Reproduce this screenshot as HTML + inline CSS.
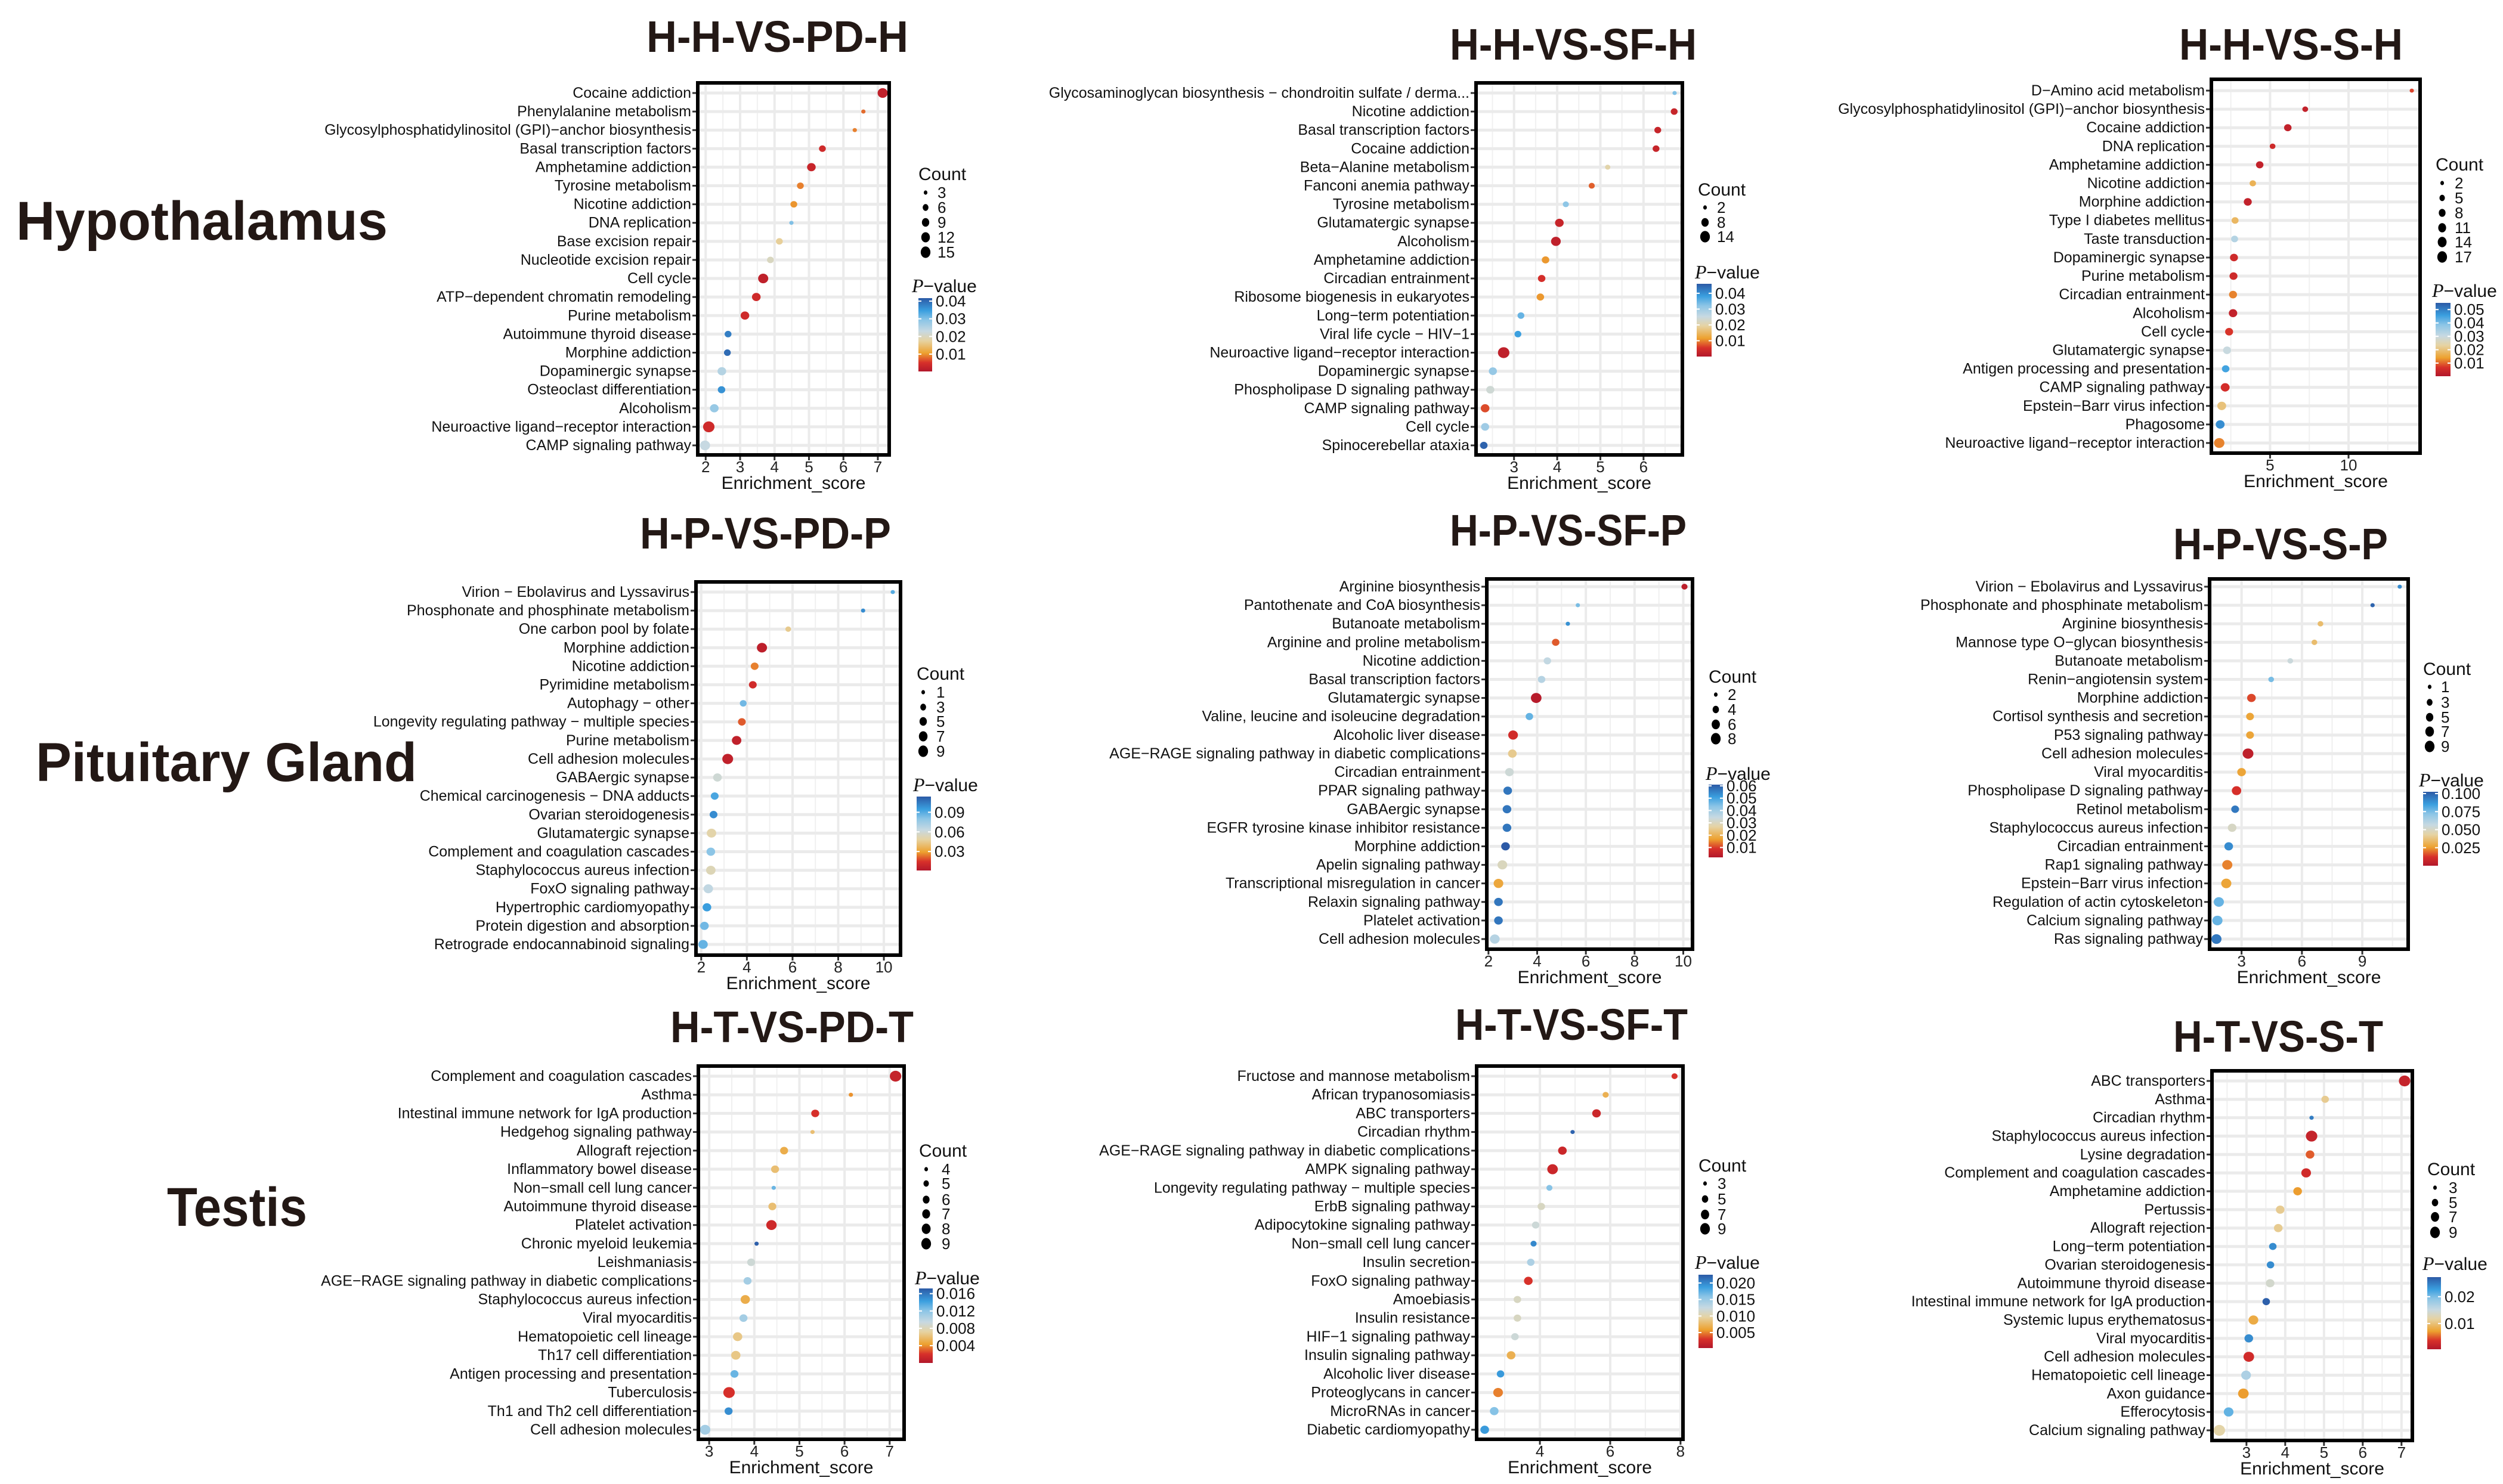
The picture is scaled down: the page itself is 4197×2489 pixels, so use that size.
<!DOCTYPE html>
<html><head><meta charset="utf-8">
<style>
html,body{margin:0;padding:0;background:#fff;}
svg{display:block;}
.lab{font-family:"Liberation Sans Narrow","Liberation Sans",sans-serif;font-size:25px;fill:#111;}
.tick{font-family:"Liberation Sans Narrow","Liberation Sans",sans-serif;font-size:26px;fill:#222;}
.axt{font-family:"Liberation Sans Narrow","Liberation Sans",sans-serif;font-size:30px;fill:#111;}
.leg{font-family:"Liberation Sans Narrow","Liberation Sans",sans-serif;font-size:26px;fill:#111;}
.legt{font-family:"Liberation Sans Narrow","Liberation Sans",sans-serif;font-size:30px;fill:#111;}
.ttl{font-family:"Liberation Sans","DejaVu Sans",sans-serif;font-weight:bold;font-size:74px;fill:#231815;}
.row{font-family:"Liberation Sans","DejaVu Sans",sans-serif;font-weight:bold;font-size:92px;fill:#231815;}
</style></head>
<body>
<svg id="fig" xmlns="http://www.w3.org/2000/svg" width="4197" height="2489" viewBox="0 0 4197 2489">
<defs>
<linearGradient id="pgrad" x1="0" y1="1" x2="0" y2="0">
<stop offset="0" stop-color="#b2182b"/>
<stop offset="0.12" stop-color="#d7302a"/>
<stop offset="0.25" stop-color="#eda12f"/>
<stop offset="0.42" stop-color="#e6d3a3"/>
<stop offset="0.55" stop-color="#c7d9e2"/>
<stop offset="0.7" stop-color="#8cc5e6"/>
<stop offset="0.83" stop-color="#3a9fdf"/>
<stop offset="1" stop-color="#2c5aa6"/>
</linearGradient>
</defs>
<rect x="0" y="0" width="4197" height="2489" fill="#fff"/>
<text class="row" x="27" y="402" textLength="623" lengthAdjust="spacingAndGlyphs">Hypothalamus</text>
<text class="row" x="60" y="1310" textLength="639" lengthAdjust="spacingAndGlyphs">Pituitary Gland</text>
<text class="row" x="280" y="2056" textLength="235" lengthAdjust="spacingAndGlyphs">Testis</text>
</svg>
<script>
// ---------- DATA ----------
const cats11=["Cocaine addiction","Phenylalanine metabolism","Glycosylphosphatidylinositol (GPI)\u2212anchor biosynthesis","Basal transcription factors","Amphetamine addiction","Tyrosine metabolism","Nicotine addiction","DNA replication","Base excision repair","Nucleotide excision repair","Cell cycle","ATP\u2212dependent chromatin remodeling","Purine metabolism","Autoimmune thyroid disease","Morphine addiction","Dopaminergic synapse","Osteoclast differentiation","Alcoholism","Neuroactive ligand\u2212receptor interaction","CAMP signaling pathway"];
const es11=[7.14,6.58,6.33,5.39,5.07,4.75,4.56,4.49,4.14,3.88,3.67,3.47,3.14,2.65,2.63,2.47,2.46,2.25,2.09,1.98];
const cnt11=[12,3,3,6,9,6,6,3,6,6,12,9,9,6,6,9,7,9,15,12];
const pv11=[0.002,0.008,0.009,0.004,0.003,0.009,0.010,0.030,0.017,0.020,0.002,0.004,0.004,0.038,0.040,0.025,0.036,0.028,0.004,0.023];

const cats12=["Glycosaminoglycan biosynthesis \u2212 chondroitin sulfate / derma...","Nicotine addiction","Basal transcription factors","Cocaine addiction","Beta\u2212Alanine metabolism","Fanconi anemia pathway","Tyrosine metabolism","Glutamatergic synapse","Alcoholism","Amphetamine addiction","Circadian entrainment","Ribosome biogenesis in eukaryotes","Long\u2212term potentiation","Viral life cycle \u2212 HIV\u22121","Neuroactive ligand\u2212receptor interaction","Dopaminergic synapse","Phospholipase D signaling pathway","CAMP signaling pathway","Cell cycle","Spinocerebellar ataxia"];
const es12=[6.72,6.71,6.33,6.29,5.17,4.80,4.20,4.05,3.97,3.73,3.64,3.61,3.16,3.09,2.76,2.51,2.45,2.33,2.33,2.30];
const cnt12=[2,5,5,5,3,4,4,8,10,6,6,6,5,5,14,7,7,8,7,6];
const pv12=[0.033,0.003,0.003,0.003,0.020,0.008,0.032,0.003,0.002,0.011,0.005,0.011,0.035,0.038,0.002,0.031,0.024,0.007,0.030,0.045];

const cats13=["D\u2212Amino acid metabolism","Glycosylphosphatidylinositol (GPI)\u2212anchor biosynthesis","Cocaine addiction","DNA replication","Amphetamine addiction","Nicotine addiction","Morphine addiction","Type I diabetes mellitus","Taste transduction","Dopaminergic synapse","Purine metabolism","Circadian entrainment","Alcoholism","Cell cycle","Glutamatergic synapse","Antigen processing and presentation","CAMP signaling pathway","Epstein\u2212Barr virus infection","Phagosome","Neuroactive ligand\u2212receptor interaction"];
const es13=[14.03,7.24,6.13,5.16,4.34,3.90,3.58,2.77,2.74,2.70,2.67,2.64,2.64,2.39,2.26,2.17,2.14,1.92,1.82,1.76];
const cnt13=[2,4,7,4,7,5,8,6,6,8,8,8,9,8,8,7,10,10,10,14];
const pv13=[0.008,0.003,0.003,0.005,0.003,0.017,0.003,0.018,0.033,0.005,0.005,0.012,0.003,0.007,0.030,0.045,0.006,0.020,0.048,0.012];

const cats21=["Virion \u2212 Ebolavirus and Lyssavirus","Phosphonate and phosphinate metabolism","One carbon pool by folate","Morphine addiction","Nicotine addiction","Pyrimidine metabolism","Autophagy \u2212 other","Longevity regulating pathway \u2212 multiple species","Purine metabolism","Cell adhesion molecules","GABAergic synapse","Chemical carcinogenesis \u2212 DNA adducts","Ovarian steroidogenesis","Glutamatergic synapse","Complement and coagulation cascades","Staphylococcus aureus infection","FoxO signaling pathway","Hypertrophic cardiomyopathy","Protein digestion and absorption","Retrograde endocannabinoid signaling"];
const es21=[10.39,9.09,5.81,4.66,4.34,4.26,3.84,3.78,3.55,3.16,2.71,2.59,2.54,2.45,2.42,2.42,2.31,2.25,2.14,2.08];
const cnt21=[1,1,2,7,4,4,3,4,6,8,5,4,4,6,5,6,6,5,5,6];
const pv21=[0.090,0.100,0.045,0.005,0.025,0.012,0.085,0.020,0.006,0.006,0.060,0.092,0.100,0.050,0.080,0.053,0.065,0.095,0.085,0.087];

const cats22=["Arginine biosynthesis","Pantothenate and CoA biosynthesis","Butanoate metabolism","Arginine and proline metabolism","Nicotine addiction","Basal transcription factors","Glutamatergic synapse","Valine, leucine and isoleucine degradation","Alcoholic liver disease","AGE\u2212RAGE signaling pathway in diabetic complications","Circadian entrainment","PPAR signaling pathway","GABAergic synapse","EGFR tyrosine kinase inhibitor resistance","Morphine addiction","Apelin signaling pathway","Transcriptional misregulation in cancer","Relaxin signaling pathway","Platelet activation","Cell adhesion molecules"];
const es22=[10.05,5.67,5.26,4.76,4.42,4.18,3.96,3.68,3.01,2.98,2.86,2.79,2.76,2.76,2.70,2.57,2.41,2.41,2.41,2.26];
const cnt22=[3,2,2,4,4,4,7,4,6,5,5,5,5,5,5,6,6,5,5,6];
const pv22=[0.004,0.045,0.053,0.012,0.035,0.037,0.003,0.047,0.008,0.025,0.033,0.057,0.057,0.057,0.062,0.030,0.018,0.057,0.057,0.037];

const cats23=["Virion \u2212 Ebolavirus and Lyssavirus","Phosphonate and phosphinate metabolism","Arginine biosynthesis","Mannose type O\u2212glycan biosynthesis","Butanoate metabolism","Renin\u2212angiotensin system","Morphine addiction","Cortisol synthesis and secretion","P53 signaling pathway","Cell adhesion molecules","Viral myocarditis","Phospholipase D signaling pathway","Retinol metabolism","Staphylococcus aureus infection","Circadian entrainment","Rap1 signaling pathway","Epstein\u2212Barr virus infection","Regulation of actin cytoskeleton","Calcium signaling pathway","Ras signaling pathway"];
const es23=[10.86,9.51,6.92,6.62,5.42,4.47,3.49,3.42,3.42,3.32,3.00,2.75,2.68,2.53,2.36,2.29,2.24,1.87,1.80,1.75];
const cnt23=[1,1,2,2,2,2,5,4,4,8,5,6,4,5,5,7,7,7,7,7];
const pv23=[0.090,0.100,0.035,0.035,0.055,0.075,0.015,0.027,0.027,0.004,0.027,0.012,0.095,0.050,0.090,0.022,0.027,0.078,0.078,0.095];

const cats31=["Complement and coagulation cascades","Asthma","Intestinal immune network for IgA production","Hedgehog signaling pathway","Allograft rejection","Inflammatory bowel disease","Non\u2212small cell lung cancer","Autoimmune thyroid disease","Platelet activation","Chronic myeloid leukemia","Leishmaniasis","AGE\u2212RAGE signaling pathway in diabetic complications","Staphylococcus aureus infection","Viral myocarditis","Hematopoietic cell lineage","Th17 cell differentiation","Antigen processing and presentation","Tuberculosis","Th1 and Th2 cell differentiation","Cell adhesion molecules"];
const es31=[7.13,6.14,5.35,5.29,4.66,4.46,4.43,4.40,4.38,4.05,3.93,3.85,3.80,3.76,3.63,3.59,3.56,3.44,3.43,2.91];
const cnt31=[9,4,6,4,6,6,4,6,8,4,6,6,7,6,7,7,6,9,6,8];
const pv31=[0.001,0.004,0.002,0.006,0.005,0.006,0.013,0.006,0.0015,0.017,0.009,0.011,0.005,0.011,0.0065,0.0065,0.013,0.002,0.015,0.011];

const cats32=["Fructose and mannose metabolism","African trypanosomiasis","ABC transporters","Circadian rhythm","AGE\u2212RAGE signaling pathway in diabetic complications","AMPK signaling pathway","Longevity regulating pathway \u2212 multiple species","ErbB signaling pathway","Adipocytokine signaling pathway","Non\u2212small cell lung cancer","Insulin secretion","FoxO signaling pathway","Amoebiasis","Insulin resistance","HIF\u22121 signaling pathway","Insulin signaling pathway","Alcoholic liver disease","Proteoglycans in cancer","MicroRNAs in cancer","Diabetic cardiomyopathy"];
const es32=[7.83,5.87,5.61,4.93,4.64,4.36,4.27,4.04,3.88,3.82,3.74,3.67,3.36,3.36,3.29,3.18,2.88,2.81,2.70,2.43];
const cnt32=[4,4,6,3,6,8,4,5,5,4,5,6,5,5,5,6,5,7,6,6];
const pv32=[0.003,0.007,0.002,0.022,0.002,0.002,0.016,0.011,0.012,0.020,0.014,0.003,0.011,0.011,0.012,0.007,0.019,0.005,0.016,0.019];

const cats33=["ABC transporters","Asthma","Circadian rhythm","Staphylococcus aureus infection","Lysine degradation","Complement and coagulation cascades","Amphetamine addiction","Pertussis","Allograft rejection","Long\u2212term potentiation","Ovarian steroidogenesis","Autoimmune thyroid disease","Intestinal immune network for IgA production","Systemic lupus erythematosus","Viral myocarditis","Cell adhesion molecules","Hematopoietic cell lineage","Axon guidance","Efferocytosis","Calcium signaling pathway"];
const es33=[7.08,5.03,4.68,4.68,4.64,4.54,4.32,3.87,3.82,3.68,3.62,3.61,3.51,3.18,3.06,3.06,2.99,2.92,2.54,2.30];
const cnt33=[9,5,3,9,6,7,6,6,6,5,5,6,5,7,6,8,7,8,7,9];
const pv33=[0.002,0.011,0.025,0.002,0.005,0.003,0.007,0.011,0.011,0.024,0.024,0.014,0.027,0.008,0.024,0.003,0.017,0.007,0.021,0.012];

// tick values / legend breaks
const xt11=[2,3,4,5,6,7], xt12=[3,4,5,6], xt13=[5,10];
const xt21=[2,4,6,8,10], xt22=[2,4,6,8,10], xt23=[3,6,9];
const xt31=[3,4,5,6,7], xt32=[4,6,8], xt33=[3,4,5,6,7];
const cb11=[3,6,9,12,15], cb12=[2,8,14], cb13=[2,5,8,11,14,17];
const cb21=[1,3,5,7,9], cb22=[2,4,6,8], cb23=[1,3,5,7,9];
const cb31=[4,5,6,7,8,9], cb32=[3,5,7,9], cb33=[3,5,7,9];
const pt11=["0.01","0.02","0.03","0.04"], pt12=["0.01","0.02","0.03","0.04"], pt13=["0.01","0.02","0.03","0.04","0.05"];
const pt21=["0.03","0.06","0.09"], pt22=["0.01","0.02","0.03","0.04","0.05","0.06"], pt23=["0.025","0.050","0.075","0.100"];
const pt31=["0.004","0.008","0.012","0.016"], pt32=["0.005","0.010","0.015","0.020"], pt33=["0.01","0.02"];

// ---------- LAYOUT ----------
const panels=[
 {id:"h-h-vs-pd-h",title:"H-H-VS-PD-H",tx:1084,tw:439,tb:87,f:[1170,1491,139,763],xd:[1.77,7.33],rows:[156,747],cats:cats11,es:es11,cnt:cnt11,pv:pv11,xt:xt11,cb:cb11,pt:pt11,
  ct:[1540,291],cy:[323,348,373,398,423],dx:1552,lx:1572,ptl:[1529,479],bar:[1540,23,500,623],pr:[0.0002,0.0417]},
 {id:"h-h-vs-sf-h",title:"H-H-VS-SF-H",tx:2431,tw:414,tb:100,f:[2475,2821,139,763],xd:[2.12,6.90],rows:[156,747],cats:cats12,es:es12,cnt:cnt12,pv:pv12,xt:xt12,cb:cb12,pt:pt12,
  ct:[2847,317],cy:[348,373,397],dx:2859,lx:2879,ptl:[2842,456],bar:[2845,25,476,598],pr:[0,0.046]},
 {id:"h-h-vs-s-h",title:"H-H-VS-S-H",tx:3654,tw:375,tb:100,f:[3708,4058,133,760],xd:[1.26,14.56],rows:[152,743],cats:cats13,es:es13,cnt:cnt13,pv:pv13,xt:xt13,cb:cb13,pt:pt13,
  ct:[4084,275],cy:[307,332,357,382,406,431],dx:4095,lx:4116,ptl:[4078,487],bar:[4084,25,508,631],pr:[0.0002,0.055]},
 {id:"h-p-vs-pd-p",title:"H-P-VS-PD-P",tx:1073,tw:421,tb:920,f:[1167,1510,976,1602],xd:[1.77,10.73],rows:[993,1584],cats:cats21,es:es21,cnt:cnt21,pv:pv21,xt:xt21,cb:cb21,pt:pt21,
  ct:[1537,1129],cy:[1161,1186,1210,1235,1260],dx:1548,lx:1570,ptl:[1531,1316],bar:[1537,24,1336,1460],pr:[0.001,0.114]},
 {id:"h-p-vs-sf-p",title:"H-P-VS-SF-P",tx:2431,tw:397,tb:915,f:[2493,2838,971,1592],xd:[1.93,10.38],rows:[984,1575],cats:cats22,es:es22,cnt:cnt22,pv:pv22,xt:xt22,cb:cb22,pt:pt22,
  ct:[2865,1134],cy:[1165,1190,1215,1239],dx:2877,lx:2897,ptl:[2860,1297],bar:[2865,24,1316,1438],pr:[0.002,0.061]},
 {id:"h-p-vs-s-p",title:"H-P-VS-S-P",tx:3644,tw:360,tb:938,f:[3705,4038,971,1592],xd:[1.41,11.28],rows:[984,1575],cats:cats23,es:es23,cnt:cnt23,pv:pv23,xt:xt23,cb:cb23,pt:pt23,
  ct:[4063,1121],cy:[1152,1178,1203,1227,1252],dx:4074,lx:4093,ptl:[4056,1308],bar:[4063,25,1328,1452],pr:[0,0.1025]},
 {id:"h-t-vs-pd-t",title:"H-T-VS-PD-T",tx:1124,tw:408,tb:1748,f:[1171,1516,1788,2414],xd:[2.76,7.32],rows:[1805,2398],cats:cats31,es:es31,cnt:cnt31,pv:pv31,xt:xt31,cb:cb31,pt:pt31,
  ct:[1541,1929],cy:[1961,1985,2012,2036,2061,2086],dx:1553,lx:1579,ptl:[1534,2143],bar:[1541,23,2161,2286],pr:[0,0.0172]},
 {id:"h-t-vs-sf-t",title:"H-T-VS-SF-T",tx:2440,tw:390,tb:1744,f:[2476,2822,1788,2414],xd:[2.20,8.07],rows:[1805,2398],cats:cats32,es:es32,cnt:cnt32,pv:pv32,xt:xt32,cb:cb32,pt:pt32,
  ct:[2848,1954],cy:[1985,2011,2037,2061],dx:2859,lx:2880,ptl:[2842,2117],bar:[2848,24,2138,2261],pr:[0.0003,0.0225]},
 {id:"h-t-vs-s-t",title:"H-T-VS-S-T",tx:3644,tw:352,tb:1764,f:[3709,4045,1796,2416],xd:[2.11,7.28],rows:[1813,2399],cats:cats33,es:es33,cnt:cnt33,pv:pv33,xt:xt33,cb:cb33,pt:pt33,
  ct:[4070,1960],cy:[1992,2017,2041,2067],dx:4083,lx:4106,ptl:[4062,2119],bar:[4070,23,2142,2263],pr:[0.0004,0.0273]}
];

const stops=[[0,[178,24,43]],[0.12,[215,48,42]],[0.25,[237,161,47]],[0.42,[230,211,163]],[0.55,[199,217,226]],[0.7,[140,197,230]],[0.83,[58,159,223]],[1,[44,90,166]]];
function colorAt(t){
  t=Math.max(0,Math.min(1,t));
  for(let i=1;i<stops.length;i++){
    if(t<=stops[i][0]){
      const a=stops[i-1],b=stops[i],u=(t-a[0])/(b[0]-a[0]);
      const c=a[1].map((v,k)=>Math.round(v+(b[1][k]-v)*u));
      return "rgb("+c.join(",")+")";
    }
  }
  return "rgb(44,90,166)";
}
const NS="http://www.w3.org/2000/svg";
const svg=document.getElementById("fig");
function mk(tag,attrs,parent){
  const e=document.createElementNS(NS,tag);
  for(const k in attrs) e.setAttribute(k,attrs[k]);
  (parent||svg).appendChild(e);
  return e;
}

panels.forEach(function(P){
  const g=mk("g",{});
  
  
  const [L,R,T,B]=P.f;
  const xs=v=>L+(v-P.xd[0])/(P.xd[1]-P.xd[0])*(R-L);
  const n=P.cats.length;
  const ys=i=>P.rows[0]+i*(P.rows[1]-P.rows[0])/(n-1);
  const cmin=P.cb[0],cmax=P.cb[P.cb.length-1];
  const rs=c=>{const u=Math.max(0,Math.min(1,(c-cmin)/(cmax-cmin)));return Math.sqrt(3.6*3.6+(9.6*9.6-3.6*3.6)*u);};
  const pc=p=>colorAt((p-P.pr[0])/(P.pr[1]-P.pr[0]));

  // title
  const t=mk("text",{class:"ttl",x:P.tx,y:P.tb,textLength:P.tw,lengthAdjust:"spacingAndGlyphs"},g);
  t.textContent=P.title;
  
  

  // panel bg
  const bg=mk("rect",{x:L,y:T,width:R-L,height:B-T,fill:"#fff"},g);
  
  

  // minor vertical grid
  const step=P.xt.length>1?P.xt[1]-P.xt[0]:5;
  for(let v=P.xt[0]-step/2; v<=P.xd[1]; v+=step){
    if(v<P.xd[0]) continue;
    const ln=mk("line",{x1:xs(v),x2:xs(v),y1:T,y2:B,stroke:"#f0f0f0","stroke-width":2},g);
    
    
  }
  P.xt.forEach(function(v){
    const ln=mk("line",{x1:xs(v),x2:xs(v),y1:T,y2:B,stroke:"#ebebeb","stroke-width":4},g);
    
    
  });
  for(let i=0;i<n;i++){
    const ln=mk("line",{x1:L,x2:R,y1:ys(i),y2:ys(i),stroke:"#ebebeb","stroke-width":5},g);
    
    
  }
  // dots
  for(let i=0;i<n;i++){
    const c=mk("ellipse",{cx:xs(P.es[i]),cy:ys(i),rx:rs(P.cnt[i]),ry:rs(P.cnt[i])*0.95,fill:pc(P.pv[i])},g);
    
    
  }
  // frame
  const fr=mk("rect",{x:L,y:T,width:R-L,height:B-T,fill:"none",stroke:"#000","stroke-width":6},g);
  
  

  // y labels & ticks
  for(let i=0;i<n;i++){
    const tk=mk("line",{x1:L-9,x2:L-3,y1:ys(i),y2:ys(i),stroke:"#333","stroke-width":3},g);
    
    
    const tx=mk("text",{class:"lab",x:L-11,y:ys(i)+8,"text-anchor":"end"},g);
    tx.textContent=P.cats[i];
    
    
  }
  // x ticks
  P.xt.forEach(function(v){
    const tk=mk("line",{x1:xs(v),x2:xs(v),y1:B+3,y2:B+9,stroke:"#333","stroke-width":3},g);
    
    
    const tx=mk("text",{class:"tick",x:xs(v),y:B+29,"text-anchor":"middle"},g);
    tx.textContent=String(v);
    
    
  });
  const xt=mk("text",{class:"axt",x:(L+R)/2,y:B+57,"text-anchor":"middle"},g);
  xt.textContent="Enrichment_score";
  
  

  // count legend
  const ctt=mk("text",{class:"legt",x:P.ct[0],y:P.ct[1]+11},g);
  ctt.textContent="Count";
  
  
  P.cb.forEach(function(c,k){
    const d=mk("ellipse",{cx:P.dx,cy:P.cy[k],rx:rs(c)*0.85,ry:rs(c),fill:"#000"},g);
    
    
    const l=mk("text",{class:"leg",x:P.lx,y:P.cy[k]+9},g);
    l.textContent=String(c);
    
    
  });
  // p-value legend
  const pt=mk("text",{class:"legt",x:P.ptl[0],y:P.ptl[1]+11},g);
  
  
  const ts1=mk("tspan",{"font-family":"Liberation Serif, serif","font-style":"italic","font-size":"32"},pt);
  ts1.textContent="P";
  const ts2=mk("tspan",{},pt);
  ts2.textContent="\u2212value";
  const [bx,bw,bt,bb]=P.bar;
  const br=mk("rect",{x:bx,y:bt,width:bw,height:bb-bt,fill:"url(#pgrad)"},g);
  
  
  P.pt.forEach(function(lbl){
    const v=parseFloat(lbl);
    const y=bb-(v-P.pr[0])/(P.pr[1]-P.pr[0])*(bb-bt);
    const a=mk("line",{x1:bx,x2:bx+5,y1:y,y2:y,stroke:"#fff","stroke-width":2},g);
    
    
    const b=mk("line",{x1:bx+bw-5,x2:bx+bw,y1:y,y2:y,stroke:"#fff","stroke-width":2},g);
    
    
    const tx=mk("text",{class:"leg",x:bx+bw+6,y:y+9},g);
    tx.textContent=lbl;
    
    
  });
});
</script>
</body></html>
